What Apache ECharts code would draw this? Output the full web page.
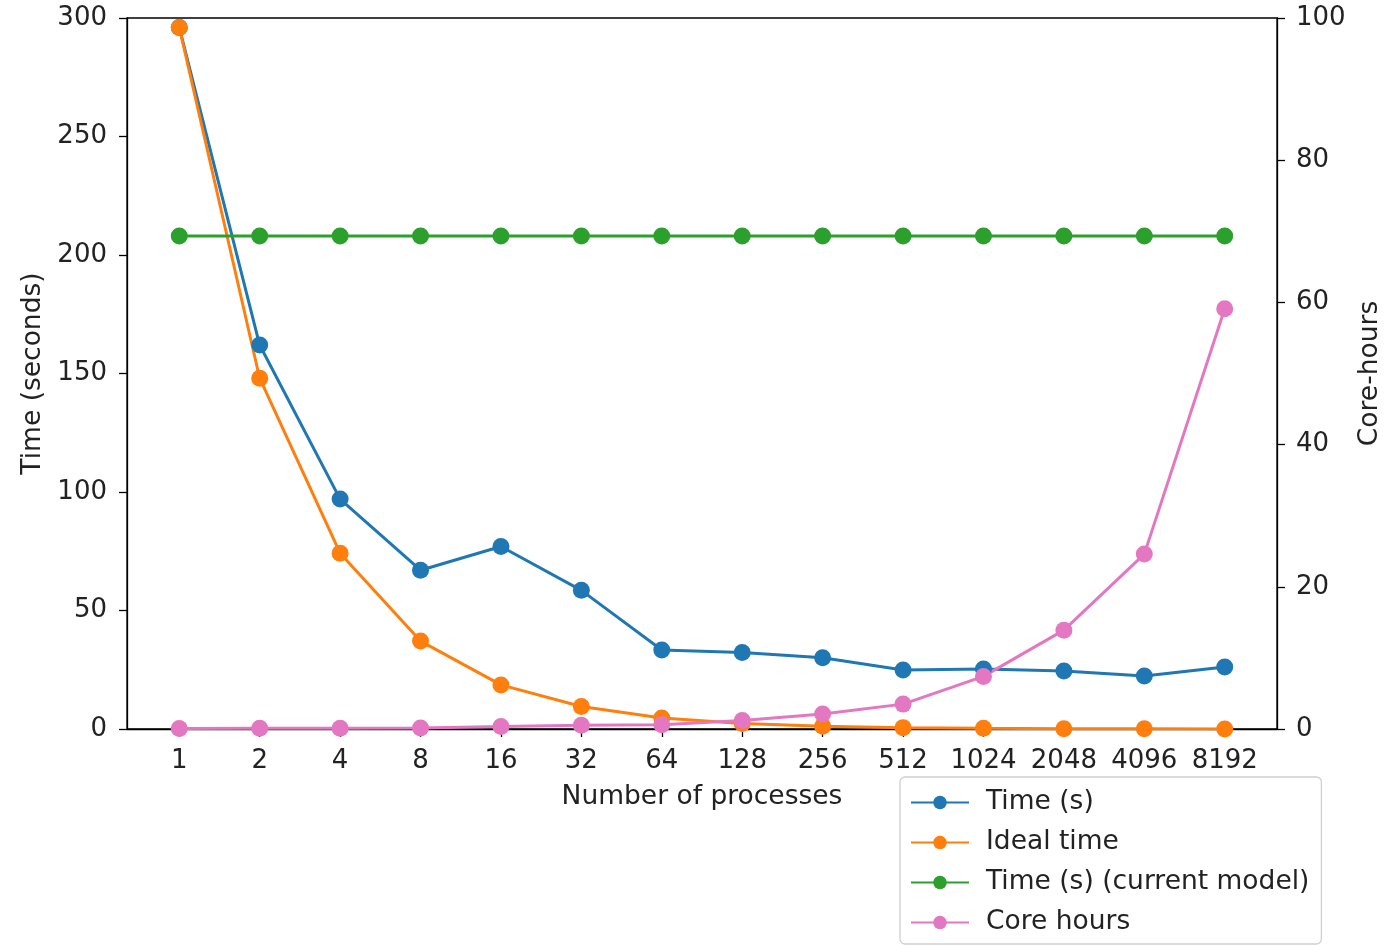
<!DOCTYPE html>
<html>
<head>
<meta charset="utf-8">
<script src="https://cdn.jsdelivr.net/npm/echarts@6/dist/echarts.min.js"></script>
<style>html,body{margin:0;padding:0;background:#fff;}#c{width:1388px;height:945px;}</style>
</head>
<body>
<div id="c"></div>
<script>
const categories = ['1','2','4','8','16','32','64','128','256','512','1024','2048','4096','8192'];
const timeS = [296, 162, 97, 67, 77, 58.5, 33.3, 32.3, 30.1, 24.9, 25.3, 24.5, 22.4, 26.2];
const idealTime = [296, 148, 74.2, 37.1, 18.6, 9.5, 4.6, 2.3, 1.16, 0.58, 0.29, 0.14, 0.07, 0.036];
const timeCurrent = [208, 208, 208, 208, 208, 208, 208, 208, 208, 208, 208, 208, 208, 208];
const coreHours = [0.08, 0.09, 0.11, 0.15, 0.34, 0.52, 0.6, 1.2, 2.1, 3.5, 7.4, 13.9, 24.6, 59.1];
const leftTicks = [0, 50, 100, 150, 200, 250, 300];
const rightTicks = [0, 20, 40, 60, 80, 100];

const FONT = 'DejaVu Sans';
const idx = categories.map((_, i) => i);
const pairs = arr => arr.map((v, i) => [i, v]);

const chart = echarts.init(document.getElementById('c'), null, {renderer: 'canvas'});
const mk = (name, data, color, yi) => ({
  name, type: 'line', data: pairs(data), yAxisIndex: yi,
  symbol: 'circle', symbolSize: 17,
  lineStyle: {color, width: 3}, itemStyle: {color},
  emphasis: {disabled: true}, animation: false
});
chart.setOption({
  animation: false,
  textStyle: {fontFamily: FONT},
  grid: {left: 127, right: 111, top: 18, bottom: 216, outerBoundsMode: 'none', containLabel: false,
         show: true, borderColor: '#000', borderWidth: 1.3, backgroundColor: 'transparent'},
  legend: {
    orient: 'vertical', left: 900, top: 777,
    data: ['Time (s)', 'Ideal time', 'Time (s) (current model)', 'Core hours'],
    itemWidth: 58, itemHeight: 17, itemGap: 13,
    padding: [12, 12, 8, 10],
    borderColor: '#d0d0d0', borderWidth: 1.3, borderRadius: 5, backgroundColor: '#fff',
    textStyle: {fontFamily: FONT, fontSize: 26.5, color: '#222', padding: [0, 0, 0, 12]}
  },
  xAxis: {
    type: 'value', min: -0.65, max: 13.65,
    name: 'Number of processes', nameLocation: 'middle', nameGap: 55,
    nameTextStyle: {fontFamily: FONT, fontSize: 26.5, color: '#222'},
    axisLine: {show: true, onZero: false, lineStyle: {color: '#000', width: 1.3}},
    axisTick: {show: true, customValues: idx, length: 8, lineStyle: {color: '#000', width: 1.3}},
    axisLabel: {customValues: idx, formatter: v => categories[Math.round(v)], margin: 19, fontFamily: FONT, fontSize: 26, color: '#222'},
    splitLine: {show: false}
  },
  yAxis: [{
    type: 'value', min: 0, max: 300, interval: 50, position: 'left',
    name: 'Time (seconds)', nameLocation: 'middle', nameGap: 79, nameRotate: 90,
    nameTextStyle: {fontFamily: FONT, fontSize: 26.5, color: '#222'},
    axisLine: {show: true, onZero: false, lineStyle: {color: '#000', width: 1.3}},
    axisTick: {show: true, length: 8, lineStyle: {color: '#000', width: 1.3}},
    axisLabel: {margin: 20, fontFamily: FONT, fontSize: 26, color: '#222', formatter: v => leftTicks.includes(v) ? String(v) : ''},
    splitLine: {show: false}
  }, {
    type: 'value', min: 0, max: 100, interval: 20, position: 'right',
    name: 'Core-hours', nameLocation: 'middle', nameGap: 78, nameRotate: 90,
    nameTextStyle: {fontFamily: FONT, fontSize: 26.5, color: '#222'},
    axisLine: {show: true, onZero: false, lineStyle: {color: '#000', width: 1.3}},
    axisTick: {show: true, length: 8, lineStyle: {color: '#000', width: 1.3}},
    axisLabel: {margin: 19, fontFamily: FONT, fontSize: 26, color: '#222', formatter: v => rightTicks.includes(v) ? String(v) : ''},
    splitLine: {show: false}
  }],
  series: [
    mk('Time (s)', timeS, '#1f77b4', 0),
    mk('Ideal time', idealTime, '#ff7f0e', 0),
    mk('Time (s) (current model)', timeCurrent, '#2ca02c', 0),
    mk('Core hours', coreHours, '#e377c2', 1)
  ]
});
</script>
</body>
</html>
